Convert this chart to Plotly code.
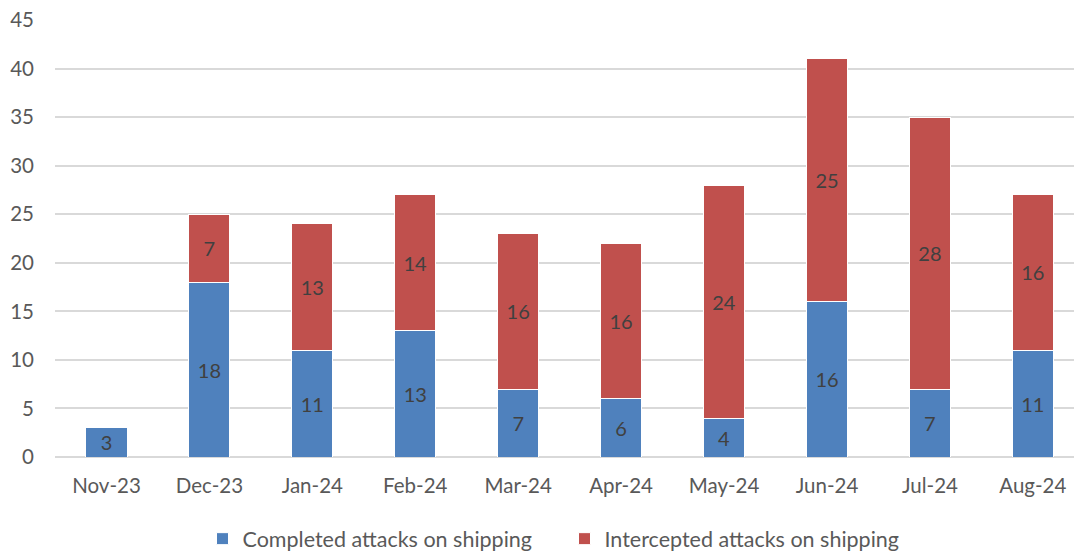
import plotly.graph_objects as go

months = ["Nov-23", "Dec-23", "Jan-24", "Feb-24", "Mar-24", "Apr-24", "May-24", "Jun-24", "Jul-24", "Aug-24"]
completed = [3, 18, 11, 13, 7, 6, 4, 16, 7, 11]
intercepted = [0, 7, 13, 14, 16, 16, 24, 25, 28, 16]
y_ticks = [0, 5, 10, 15, 20, 25, 30, 35, 40, 45]

FONT = "Lato"
fig = go.Figure()
fig.add_trace(go.Bar(
    x=months, y=completed, name="Completed attacks on shipping",
    marker=dict(color="#4F81BD", line=dict(color="white", width=1)),
    text=[str(v) if v else "" for v in completed], textposition="inside", textangle=0,
    insidetextanchor="middle", textfont=dict(color="#404040", size=20, family=FONT),
))
fig.add_trace(go.Bar(
    x=months, y=intercepted, name="Intercepted attacks on shipping",
    marker=dict(color="#C0504D", line=dict(color="white", width=1)),
    text=[str(v) if v else "" for v in intercepted], textposition="inside", textangle=0,
    insidetextanchor="middle", textfont=dict(color="#404040", size=20, family=FONT),
))
fig.update_layout(
    barmode="stack", bargap=0.6,
    width=1074, height=552,
    margin=dict(l=55, r=0, t=20, b=95, autoexpand=False),
    plot_bgcolor="white", paper_bgcolor="white",
    font=dict(family=FONT, size=20, color="#595959"),
    uniformtext=dict(mode="show", minsize=20),
    xaxis=dict(range=[-0.5, 9.4], showgrid=False, showline=False, ticks="",
               tickfont=dict(size=20.5, color="#595959"), ticklabelstandoff=14),
    yaxis=dict(range=[0, 45], tickvals=y_ticks, showgrid=True, gridcolor="#D9D9D9",
               gridwidth=1.5, zeroline=True, zerolinecolor="#D9D9D9", zerolinewidth=1.5,
               ticks="", tickfont=dict(size=20.5, color="#595959"), ticklabelstandoff=20),
    legend=dict(orientation="h", x=0.5, xanchor="center", y=-0.14, yanchor="top",
                font=dict(size=21.5, color="#595959"), traceorder="normal",
                itemwidth=30, entrywidth=317),
    showlegend=True,
)
fig.write_html("out.html")
